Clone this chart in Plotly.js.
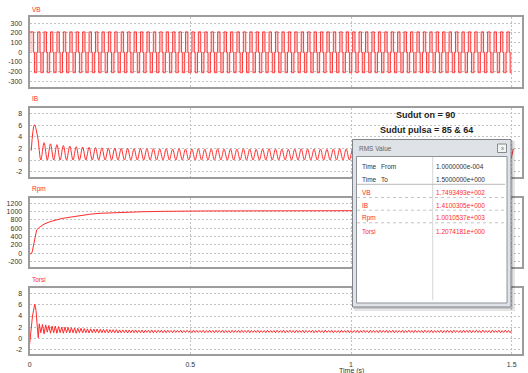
<!DOCTYPE html>
<html>
<head>
<meta charset="utf-8">
<script src="https://cdn.plot.ly/plotly-3.0.1.min.js"></script>
<style>html,body{margin:0;padding:0;background:#fff;}#chart{width:528px;height:373px;}</style>
</head>
<body>
<div id="chart"></div>
<script>
// ---------- DATA ----------
const xTickVals = [0, 0.5, 1, 1.5];
const xTickText = ["0", "0.5", "1", "1.5"];
const vbTicks = [300, 200, 100, 0, -100, -200, -300];
const ibTicks = [8, 6, 4, 2, 0, -2];
const rpmTicks = [1200, 1000, 800, 600, 400, 200, 0, -200];
const torsiTicks = [8, 6, 4, 2, 0, -2];

// VB: sampled every 0.0025 s from t = 0 (step trace)
const vbStart = 0, vbStep = 0.0025;
const vbVolt = [
210,210,210,210,210,0,-210,-210,-210,0,
210,210,210,0,-210,-210,-210,0,210,210,210,0,-210,-210,-210,0,
210,210,210,0,-210,-210,-210,0,210,210,210,0,-210,-210,-210,0,
210,210,210,0,-210,-210,-210,0,210,210,210,0,-210,-210,-210,0,
210,210,210,0,-210,-210,-210,0,210,210,210,0,-210,-210,-210,0,
210,210,210,0,-210,-210,-210,0,210,210,210,0,-210,-210,-210,0,
210,210,210,0,-210,-210,-210,0,210,210,210,0,-210,-210,-210,0,
210,210,210,0,-210,-210,-210,0,210,210,210,0,-210,-210,-210,0,
210,210,210,0,-210,-210,-210,0,210,210,210,0,-210,-210,-210,0,
210,210,210,0,-210,-210,-210,0,210,210,210,0,-210,-210,-210,0,
210,210,210,0,-210,-210,-210,0,210,210,210,0,-210,-210,-210,0,
210,210,210,0,-210,-210,-210,0,210,210,210,0,-210,-210,-210,0,
210,210,210,0,-210,-210,-210,0,210,210,210,0,-210,-210,-210,0,
210,210,210,0,-210,-210,-210,0,210,210,210,0,-210,-210,-210,0,
210,210,210,0,-210,-210,-210,0,210,210,210,0,-210,-210,-210,0,
210,210,210,0,-210,-210,-210,0,210,210,210,0,-210,-210,-210,0,
210,210,210,0,-210,-210,-210,0,210,210,210,0,-210,-210,-210,0,
210,210,210,0,-210,-210,-210,0,210,210,210,0,-210,-210,-210,0,
210,210,210,0,-210,-210,-210,0,210,210,210,0,-210,-210,-210,0,
210,210,210,0,-210,-210,-210,0,210,210,210,0,-210,-210,-210,0,
210,210,210,0,-210,-210,-210,0,210,210,210,0,-210,-210,-210,0,
210,210,210,0,-210,-210,-210,0,210,210,210,0,-210,-210,-210,0,
210,210,210,0,-210,-210,-210,0,210,210,210,0,-210,-210,-210,0,
210,210,210,0,-210,-210,-210,0,210,210,210,0,-210,-210,-210,0,
210,210,210,0,-210,-210,-210,0,210,210,210,0,-210,-210,-210,0,
210,210,210,0,-210,-210,-210,0,210,210,210,0,-210,-210,-210,0,
210,210,210,0,-210,-210,-210,0,210,210,210,0,-210,-210,-210,0,
210,210,210,0,-210,-210,-210,0,210,210,210,0,-210,-210,-210,0,
210,210,210,0,-210,-210,-210,0,210,210,210,0,-210,-210,-210,0,
210,210,210,0,-210,-210,-210,0,210,210,210,0,-210,-210,-210,0,
210,210,210,0,-210,-210,-210,0,210,210,210,0,-210,-210,-210,0,
210,210,210,0,-210,-210,-210,0,210,210,210,0,-210,-210,-210,0,
210,210,210,0,-210,-210,-210,0,210,210,210,0,-210,-210,-210,0,
210,210,210,0,-210,-210,-210,0,210,210,210,0,-210,-210,-210,0,
210,210,210,0,-210,-210,-210,0,210,210,210,0,-210,-210,-210,0,
210,210,210,0,-210,-210,-210,0,210,210,210,0,-210,-210,-210,0,
210,210,210,0,-210,-210,-210,0,210,210,210,0,-210,-210,-210,0,
210,210,210,0,-210,-210,-210,0,
210,210,210,0,-210,-210,-210
];

// IB: sampled every 0.01 s from t = 0.005
const ibStart = 0.005, ibStep = 0.01;
const ibCur = [1.6, 6.1, 4.0,
0,3.0, 0,2.8, 0,2.65, 0,2.5, 0,2.4, 0,2.3, 0,2.25, 0,2.2, 0,2.15, 0,2.1,
0,2.05, 0,2.05, 0,2.0, 0,2.0, 0,1.95, 0,2.0, 0,1.95, 0,1.95, 0,1.9, 0,1.95,
0,1.9, 0,1.95, 0,1.9, 0,1.9, 0,1.95, 0,1.9, 0,1.9, 0,1.95, 0,1.9, 0,1.9,
0,1.9, 0,1.95, 0,1.9, 0,1.85, 0,1.9, 0,1.95, 0,1.9, 0,1.9, 0,1.85, 0,1.9,
0,1.95, 0,1.9, 0,1.9, 0,1.9, 0,1.85, 0,1.9, 0,1.95, 0,1.9, 0,1.9, 0,1.9,
0,1.9, 0,1.85, 0,1.9, 0,1.95, 0,1.9, 0,1.9, 0,1.9, 0,1.85, 0,1.9, 0,1.95,
0,1.9, 0,1.9, 0,1.9, 0,1.85, 0,1.9, 0,1.9, 0,1.95, 0,1.9, 0,1.9, 0,1.9,
0,1.85, 0,1.9, 0,1.9, 0,1.95
];

// Rpm
const rpmTime = [0, 0.004, 0.008, 0.015, 0.022, 0.03, 0.045, 0.0635, 0.08, 0.1, 0.115, 0.14, 0.167, 0.19, 0.219, 0.255, 0.2915, 0.354, 0.42, 0.468, 0.55, 0.7, 0.85, 1.0, 1.15, 1.3, 1.5];
const rpmVal  = [0, -15, 30, 300, 560, 620, 700, 758, 800, 835, 854, 885, 918, 940, 960, 972, 983, 998, 1007, 1013, 1016, 1018, 1020, 1022, 1025, 1027, 1030];

// Torsi start-up
const torsiStartTime = [0, 0.004, 0.009, 0.016, 0.02, 0.024, 0.027, 0.03];
const torsiStartVal  = [-1.1, 1.0, 4.0, 6.1, 5.0, 2.0, 0.1, 2.6];
// Torsi ripple band: sampled every 0.005 s from t = 0.03
const torsiStart = 0.03, torsiStep = 0.005;
const torsiVal = [
2.6,1.0,2.5,0.8,2.4,1.1,2.3,0.9,2.2,1.0,2.2,0.9,2.1,1.0,2.0,0.9,2.0,1.0,1.95,0.95,
1.9,1.0,1.85,0.9,1.8,1.0,1.8,0.95,1.75,1.0,1.7,0.95,1.7,1.0,1.65,1.0,1.65,0.95,1.6,1.0,
1.6,1.0,1.6,0.95,1.55,1.0,1.55,1.0,1.55,0.95,1.5,1.0,1.5,1.0,1.5,0.95,1.5,1.0,1.5,1.0,
1.5,1.0,1.45,1.0,1.5,0.95,1.45,1.05,1.45,1.0,1.5,1.0,1.45,1.0,1.45,1.05,1.45,1.0,1.45,1.0,
1.45,1.05,1.4,1.0,1.45,1.05,1.4,1.05,1.45,1.0,1.4,1.05,1.45,1.05,1.4,1.0,1.45,1.05,1.4,1.05,
1.4,1.05,1.45,1.0,1.4,1.05,1.45,1.05,1.4,1.0,1.45,1.05,1.4,1.05,1.45,1.0,1.4,1.05,1.4,1.0,
1.45,1.05,1.4,1.05,1.4,1.0,1.45,1.05,1.4,1.05,1.45,1.0,1.4,1.05,1.4,1.05,1.45,1.0,1.4,1.05,
1.4,1.0,1.45,1.05,1.4,1.05,1.4,1.0,1.45,1.05,1.4,1.05,1.45,1.0,1.4,1.05,1.45,1.05,1.4,1.0,
1.45,1.05,1.4,1.05,1.45,1.0,1.4,1.05,1.4,1.05,1.45,1.0,1.4,1.05,1.45,1.05,1.4,1.0,1.45,1.05,
1.4,1.05,1.45,1.0,1.4,1.05,1.4,1.0,1.45,1.05,1.4,1.05,1.45,1.0,1.4,1.05,1.4,1.05,1.45,1.0,
1.4,1.05,1.45,1.05,1.4,1.0,1.45,1.05,1.4,1.05,1.4,1.0,1.45,1.05,1.4,1.05,1.45,1.0,1.4,1.05,
1.45,1.0,1.4,1.05,1.4,1.05,1.45,1.0,1.4,1.05,1.45,1.05,1.4,1.0,1.45,1.05,1.4,1.05,1.4,1.0,
1.45,1.05,1.4,1.05,1.45,1.0,1.4,1.05,1.4,1.05,1.45,1.0,1.4,1.05,1.45,1.05,1.4,1.0,1.45,1.05,
1.4,1.05,1.4,1.0,1.45,1.05,1.4,1.05,1.45,1.0,1.4,1.05,1.45,1.05,1.4,1.0,1.45,1.05,1.4,1.05,
1.4,1.0,1.45,1.05,1.4,1.05,1.45,1.0,1.4,1.05,1.45,1.05,1.4,1.0,1.45
];

// RMS window contents
const rmsRowNames = ["VB", "IB", "Rpm", "Torsi"];
const rmsRowValues = ["1.7493493e+002", "1.4100305e+000", "1.0010537e+003", "1.2074181e+000"];
const rmsTimeFrom = "1.0000000e-004";
const rmsTimeTo = "1.5000000e+000";
const noteLines = ["Sudut on = 90", "Sudut pulsa = 85 & 64"];

// ---------- LAYOUT HELPERS ----------
const W = 528, H = 373;
const px = v => v / W;
const py = v => 1 - v / H;
const FONT = "Liberation Sans, Arial, sans-serif";
const RED = "#ff2b2b";
const GRID = "#c2c2c2";
const FRAME = "#9c9c9c";

const xDomain = [px(29.6), px(522)];
const xRange = [0, 1.532];

function xAxis(anchor, labels) {
  return {
    domain: xDomain, range: xRange, anchor: anchor,
    tickvals: xTickVals, ticktext: xTickText,
    showticklabels: labels,
    ticks: labels ? "outside" : "", ticklen: 3, tickcolor: "rgba(0,0,0,0)",
    tickfont: {family: FONT, size: 7, color: "#333"},
    showgrid: true, gridcolor: GRID, griddash: "2px,2px", gridwidth: 1,
    zeroline: false, showline: true, mirror: true, linecolor: FRAME, linewidth: 2,
    fixedrange: true
  };
}
function yAxis(anchor, top, bottom, range, ticks) {
  return {
    domain: [py(bottom), py(top)], range: range, anchor: anchor,
    tickvals: ticks, ticktext: ticks.map(String),
    ticks: "outside", ticklen: 4, tickcolor: "rgba(0,0,0,0)",
    tickfont: {family: FONT, size: 7, color: "#333"},
    showgrid: true, gridcolor: GRID, griddash: "2px,2px", gridwidth: 1,
    zeroline: false, showline: true, mirror: true, linecolor: FRAME, linewidth: 2,
    fixedrange: true
  };
}

const lineStyle = {color: RED, width: 1};
const traces = [
  {type: "scatter", mode: "lines", x0: vbStart, dx: vbStep, y: vbVolt, xaxis: "x", yaxis: "y",
   fill: "tozeroy", fillcolor: "rgba(255,90,90,0.28)",
   line: {shape: "hv", color: "rgba(255,40,40,0.9)", width: 1}},
  {type: "scatter", mode: "lines", x0: ibStart, dx: ibStep, y: ibCur, xaxis: "x2", yaxis: "y2",
   line: Object.assign({shape: "spline", smoothing: 1}, lineStyle)},
  {type: "scatter", mode: "lines", x: rpmTime, y: rpmVal, xaxis: "x3", yaxis: "y3", line: lineStyle},
  {type: "scatter", mode: "lines", x: torsiStartTime, y: torsiStartVal, xaxis: "x4", yaxis: "y4", line: lineStyle},
  {type: "scatter", mode: "lines", x0: torsiStart, dx: torsiStep, y: torsiVal, xaxis: "x4", yaxis: "y4", line: lineStyle}
];

// annotations
const ann = [];
function txt(text, x, y, opts) {
  ann.push(Object.assign({
    text: text, x: px(x), y: py(y), xref: "paper", yref: "paper",
    showarrow: false, xanchor: "left", yanchor: "middle",
    font: {family: FONT, size: 6.5, color: "#333"}
  }, opts || {}));
}
const titleFont = {family: FONT, size: 6.5, color: RED};
txt("VB", 30, 9, {font: titleFont});
txt("IB", 30, 99, {font: titleFont});
txt("Rpm", 30, 189, {font: titleFont});
txt("Torsi", 30, 279, {font: titleFont});
txt("Time (s)", 351, 371, {xanchor: "center", font: {family: FONT, size: 7, color: "#333"}});
txt("<b>" + noteLines[0] + "</b>", 425.5, 115, {xanchor: "center", font: {family: FONT, size: 9, color: "#222"}});
txt("<b>" + noteLines[1] + "</b>", 426.5, 130, {xanchor: "center", font: {family: FONT, size: 9, color: "#222"}});
// window texts
txt("RMS Value", 357, 148, {font: {family: FONT, size: 6.5, color: "#666"}});
txt("x", 502, 148, {xanchor: "center", font: {family: FONT, size: 6, color: "#666"}});
txt("Time", 360, 166);
txt("From", 379, 166);
txt(rmsTimeFrom, 434, 166);
txt("Time", 360, 179.3);
txt("To", 379, 179.3);
txt(rmsTimeTo, 434, 179.3);
const rowY = [192.7, 205, 217.7, 231];
rmsRowNames.forEach((n, i) => {
  txt(n, 360, rowY[i], {font: {family: FONT, size: 6.5, color: RED}});
  txt(rmsRowValues[i], 434, rowY[i], {font: {family: FONT, size: 6.5, color: RED}});
});

// window shapes
function rect(x0, y0, x1, y1, fill, lineColor, lw) {
  return {type: "rect", xref: "paper", yref: "paper", layer: "above",
    x0: px(x0), x1: px(x1), y0: py(y1), y1: py(y0),
    fillcolor: fill, line: {color: lineColor || "rgba(0,0,0,0)", width: lw === undefined ? 1 : lw}};
}
function hline(x0, x1, y, color, dash) {
  return {type: "line", xref: "paper", yref: "paper", layer: "above",
    x0: px(x0), x1: px(x1), y0: py(y), y1: py(y), line: {color: color, width: 1, dash: dash || "solid"}};
}
const shapes = [
  rect(354, 141, 515, 311, "rgba(0,0,0,0.10)", null, 0),
  rect(353, 140, 513, 309, "rgba(0,0,0,0.12)", null, 0),
  rect(352.5, 139.5, 511, 307, "#dfe2e7", "#7f848b", 1),
  rect(356.5, 156.5, 507, 303, "#ffffff", "#8e939a", 1),
  rect(497.5, 144, 506.5, 152.5, "#f2f3f5", "#8a8a8a", 1),
  {type: "line", xref: "paper", yref: "paper", layer: "above",
   x0: px(432.7), x1: px(432.7), y0: py(300), y1: py(157), line: {color: "#d6d6d6", width: 1}},
  hline(357, 505, 184.3, "#b8b8b8"),
  hline(357, 505, 197.5, "#c4c4c4", "dot"),
  hline(357, 505, 210.2, "#c4c4c4", "dot"),
  hline(357, 505, 222.8, "#c4c4c4", "dot")
];

const layout = {
  width: W, height: H,
  margin: {l: 0, r: 0, t: 0, b: 0, pad: 0},
  paper_bgcolor: "#fff", plot_bgcolor: "#fff",
  showlegend: false, hovermode: false,
  xaxis: xAxis("y", false),
  xaxis2: xAxis("y2", false),
  xaxis3: xAxis("y3", false),
  xaxis4: xAxis("y4", true),
  yaxis: yAxis("x", 17, 87, [-357, 363], vbTicks),
  yaxis2: yAxis("x2", 108, 177, [-2.94, 9.0], ibTicks),
  yaxis3: yAxis("x3", 198, 267, [-329, 1327], rpmTicks),
  yaxis4: yAxis("x4", 288, 354, [-2.82, 9.03], torsiTicks),
  annotations: ann,
  shapes: shapes
};

Plotly.newPlot("chart", traces, layout, {staticPlot: true, displayModeBar: false});
</script>
</body>
</html>
